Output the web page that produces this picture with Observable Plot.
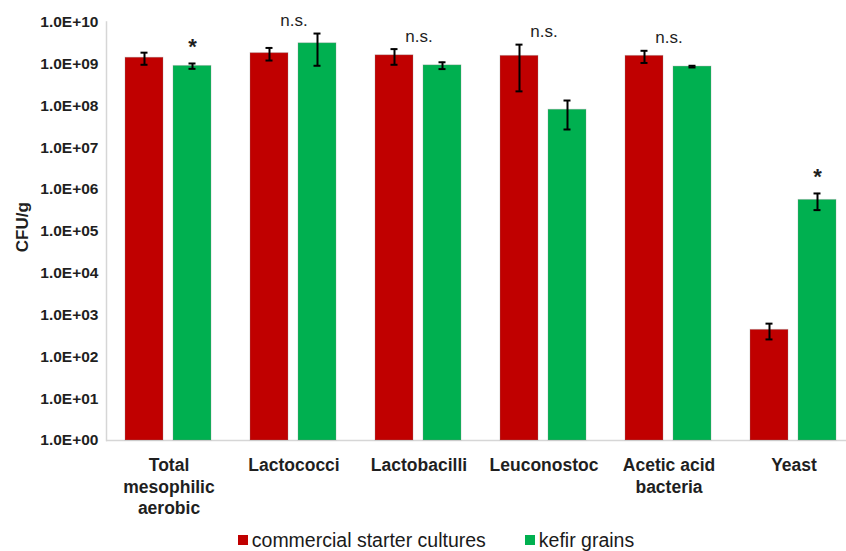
<!DOCTYPE html>
<html>
<head>
<meta charset="utf-8">
<script src="https://cdn.jsdelivr.net/npm/d3@7"></script>
<script src="https://cdn.jsdelivr.net/npm/@observablehq/plot@0.6"></script>
<style>
  html, body { margin: 0; padding: 0; background: #fff; overflow: hidden; }
  body { font-family: "Liberation Sans", Arial, sans-serif; width: 846px; }
  .legend {
    display: flex; justify-content: center; align-items: center;
    height: 24px; font-size: 19.5px; color: #1a1a1a; padding-left: 26px;
  }
  .legend .item { display: flex; align-items: center; }
  .legend .item + .item { margin-left: 39px; }
  .legend .sw { display: inline-block; width: 10px; height: 10px; margin-right: 4px; }
</style>
</head>
<body>
<div id="chart"></div>
<div class="legend" id="legend"></div>
<script>
// Microbial counts (CFU/g) by group, mean and standard deviation
const categories = ["Total mesophilic aerobic", "Lactococci", "Lactobacilli", "Leuconostoc", "Acetic acid bacteria", "Yeast"];
const categoryLabels = ["Total\nmesophilic\naerobic", "Lactococci", "Lactobacilli", "Leuconostoc", "Acetic acid\nbacteria", "Yeast"];
const series = ["commercial starter cultures", "kefir grains"];
const seriesColors = ["#C00000", "#00B050"];

const commercialMean = [1.4e9, 1.8e9, 1.6e9, 1.55e9, 1.55e9, 440];
const commercialSD   = [4.5e8, 6.0e8, 6.5e8, 1.33e9, 5.0e8, 180];
const kefirMean      = [8.9e8, 3.1e9, 9.2e8, 8.0e7, 8.6e8, 5.6e5];
const kefirSD        = [1.3e8, 2.2e9, 1.7e8, 5.3e7, 4.0e7, 2.4e5];

const significance = ["*", "n.s.", "n.s.", "n.s.", "n.s.", "*"];

const yTicks = [1e0, 1e1, 1e2, 1e3, 1e4, 1e5, 1e6, 1e7, 1e8, 1e9, 1e10];
const yTickLabels = ["1.0E+00", "1.0E+01", "1.0E+02", "1.0E+03", "1.0E+04", "1.0E+05",
                     "1.0E+06", "1.0E+07", "1.0E+08", "1.0E+09", "1.0E+10"];

// Long-format rows for the grouped bars
const rows = categories.flatMap((c, i) => [
  {category: c, series: series[0], value: commercialMean[i], sd: commercialSD[i]},
  {category: c, series: series[1], value: kefirMean[i], sd: kefirSD[i]}
]);

// Significance markers sit above the highest error bar of each group
const groups = categories.map((c, i) => ({
  category: c,
  label: significance[i],
  top: Math.max(commercialMean[i] + commercialSD[i], kefirMean[i] + kefirSD[i]),
  kefirTop: kefirMean[i] + kefirSD[i]
}));
const nsGroups = groups.filter(d => d.label === "n.s.");
const starGroups = groups.filter(d => d.label === "*");

const font = '"Liberation Sans", Arial, sans-serif';
const errStroke = {stroke: "#000", strokeWidth: 2};

const chart = Plot.plot({
  width: 846,
  height: 528,
  marginLeft: 104,
  marginRight: -12,
  marginTop: 21.5,
  marginBottom: 88,
  style: {fontFamily: font, background: "white", color: "#1f1f1f"},
  fx: {domain: categories, padding: 0, axis: null},
  x: {domain: series, paddingInner: 0.204, paddingOuter: 0.385, axis: null},
  y: {type: "log", domain: [1, 1e10], axis: null},
  color: {domain: series, range: seriesColors},
  marks: [
    Plot.frame({anchor: "left", facetAnchor: "left", stroke: "#d6d6d6", strokeWidth: 1.5}),
    Plot.ruleY([1], {stroke: "#d6d6d6", strokeWidth: 1.5}),
    Plot.barY(rows, {
      fx: "category", x: "series", y1: 1, y2: "value", fill: "series",
      stroke: "#8a8a8a", strokeOpacity: 0.3, strokeWidth: 1
    }),
    Plot.ruleX(rows, {
      fx: "category", x: "series",
      y1: d => d.value - d.sd, y2: d => d.value + d.sd, ...errStroke
    }),
    Plot.tickY(rows, {
      fx: "category", x: "series", y: d => d.value + d.sd,
      insetLeft: 15.5, insetRight: 15.5, ...errStroke
    }),
    Plot.tickY(rows, {
      fx: "category", x: "series", y: d => d.value - d.sd,
      insetLeft: 15.5, insetRight: 15.5, ...errStroke
    }),
    Plot.text(nsGroups, {
      fx: "category", y: "top", text: "label", dy: -13,
      fontSize: 17, fill: "#1f1f1f"
    }),
    Plot.text(starGroups, {
      fx: "category", x: () => series[1], y: "kefirTop", text: "label", dy: -17,
      fontSize: 22, fontWeight: "bold", fill: "#1f1f1f"
    }),
    Plot.axisY({
      ticks: yTicks,
      tickFormat: d => yTickLabels[yTicks.indexOf(d)],
      tickSize: 0, tickPadding: 8,
      fontSize: 15.5, fontWeight: "bold", label: null
    }),
    Plot.axisFx({
      anchor: "bottom",
      tickFormat: d => categoryLabels[categories.indexOf(d)],
      tickSize: 0, tickPadding: 15.5,
      fontSize: 17.5, fontWeight: "bold", lineHeight: 1.23, label: null
    }),
    Plot.text(["CFU/g"], {
      text: d => d, facetAnchor: "left", frameAnchor: "left", textAnchor: "middle",
      dx: -84, dy: -4, rotate: -90, fontSize: 17, fontWeight: "bold", fill: "#1f1f1f"
    })
  ]
});
document.getElementById("chart").appendChild(chart);

// Legend below the chart
const legend = document.getElementById("legend");
series.forEach((s, i) => {
  const item = document.createElement("span");
  item.className = "item";
  const sw = document.createElement("span");
  sw.className = "sw";
  sw.style.background = seriesColors[i];
  item.appendChild(sw);
  item.appendChild(document.createTextNode(s));
  legend.appendChild(item);
});
</script>
</body>
</html>
